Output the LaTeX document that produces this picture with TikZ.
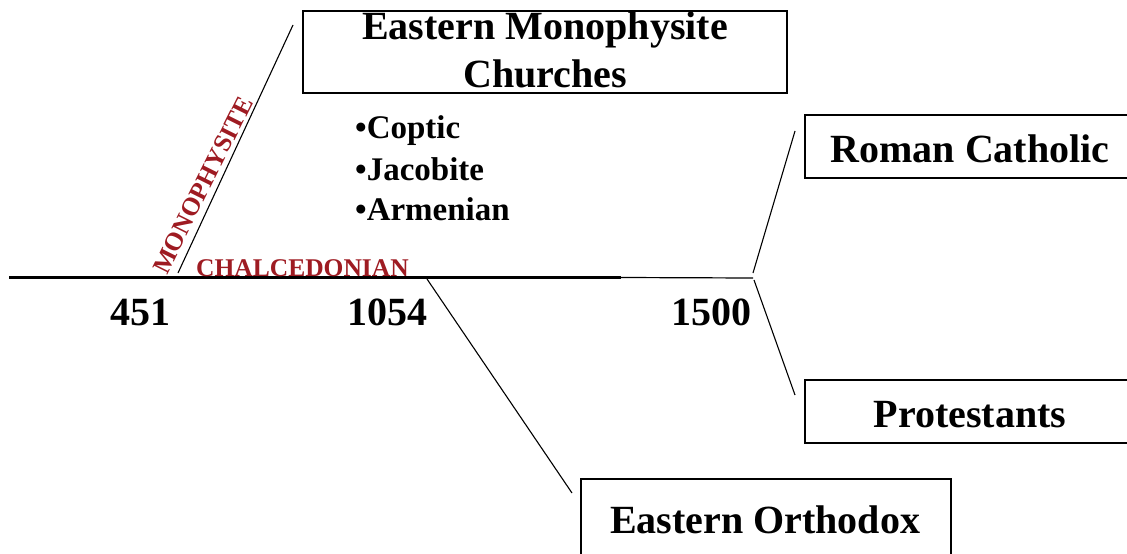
\documentclass[tikz,border=0pt]{standalone}
\usepackage{fontspec}
\setmainfont{Liberation Serif}
\definecolor{maroon}{HTML}{9E1B22}
\begin{document}
\begin{tikzpicture}[x=1pt,y=-1pt,
  box/.style={draw,line width=1.3pt,inner sep=0pt},
  branch/.style={line width=1.1pt},
  big/.style={font=\fontsize{40}{44}\selectfont\bfseries},
  lst/.style={font=\fontsize{33}{36}\selectfont\bfseries,anchor=base west,inner sep=0pt},
  red/.style={font=\fontsize{25.5}{28}\selectfont\bfseries,text=maroon,inner sep=0pt},
  yr/.style={font=\fontsize{40}{44}\selectfont\bfseries,anchor=base,inner sep=0pt}]
\useasboundingbox (0,0) rectangle (1127,554);
% boxes
\node[box,minimum width=484pt,minimum height=82pt] (emc) at (545,52) {};
\node[big,anchor=base,inner sep=0pt] (emct1) at (545,39) {Eastern Monophysite};
\node[big,anchor=base,inner sep=0pt] (emct2) at (545,87) {Churches};
\node[box,minimum width=330pt,minimum height=63pt] (rc) at (970,146.5) {};
\node[big,anchor=base,inner sep=0pt] (rct) at (970,162) {Roman Catholic};
\node[box,minimum width=330pt,minimum height=63pt] (pr) at (970,411.5) {};
\node[big,anchor=base,inner sep=0pt] (prt) at (970,427) {Protestants};
\node[box,minimum width=370pt,minimum height=86pt] (eo) at (766,522) {};
\node[big,anchor=base,inner sep=0pt] (eot) at (765,533) {Eastern Orthodox};
% list
\node[lst] (l1) at (355,138) {•Coptic};
\node[lst] (l2) at (355,180) {•Jacobite};
\node[lst] (l3) at (355,220) {•Armenian};
% timeline
\coordinate (t0) at (9,277.5);
\coordinate (t1) at (621,277.5);
\coordinate (t2) at (753,278);
\draw[line width=2.4pt] (t0) -- (t1);
\draw[line width=1.2pt] (t1) -- (t2);
% branches
\coordinate (m0) at (178,273);
\coordinate (m1) at (293,25);
\draw[branch] (m0) -- (m1);
\coordinate (o0) at (427,279);
\coordinate (o1) at (572,493);
\draw[branch] (o0) -- (o1);
\coordinate (r0) at (753,273);
\coordinate (r1) at (795,131);
\draw[branch] (r0) -- (r1);
\coordinate (p0) at (754,280);
\coordinate (p1) at (795,395);
\draw[branch] (p0) -- (p1);
% labels
\node[red,rotate=63.5] (mono) at (203,185) {MONOPHYSITE};
\node[red,anchor=base west] (chal) at (196,276) {CHALCEDONIAN};
\node[yr] (y451) at (140,325) {451};
\node[yr] (y1054) at (387.5,325) {1054};
\node[yr] (y1500) at (711.5,325) {1500};
\end{tikzpicture}
\end{document}
